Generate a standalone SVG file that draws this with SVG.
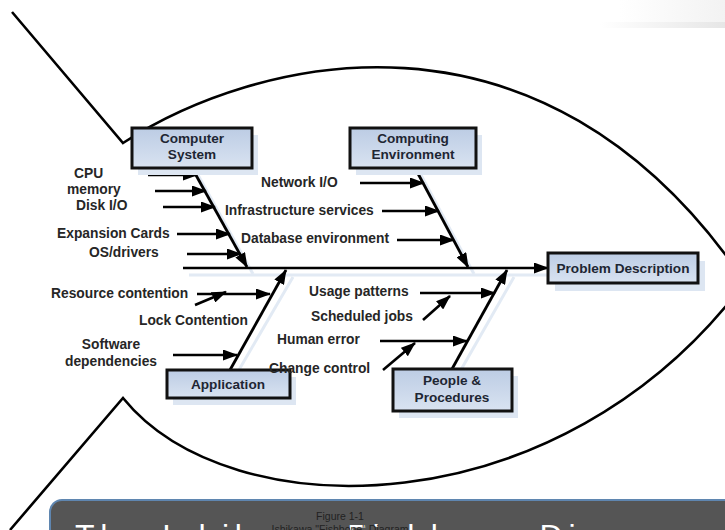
<svg xmlns="http://www.w3.org/2000/svg" width="725" height="530" viewBox="0 0 725 530">
<defs>
<style>
.t{font-family:"Liberation Sans",Arial,sans-serif;font-weight:bold;font-size:13.8px;fill:#262626}
.bt{font-family:"Liberation Sans",Arial,sans-serif;font-weight:bold;font-size:13.6px;fill:#1e2633;text-anchor:middle}
.box{fill:url(#bg);stroke:#111;stroke-width:3}
.sh{fill:#dde6f2}
.arr{stroke:#000;stroke-width:2.6;fill:none;marker-end:url(#ah)}
.bone{stroke:#000;stroke-width:2.8;fill:none;marker-end:url(#ah)}
.shl{stroke:#e2eaf4;stroke-width:3;fill:none}
.fish{stroke:#000;stroke-width:2.6;fill:none}
</style>
<linearGradient id="bg" x1="0" y1="0" x2="0" y2="1">
<stop offset="0" stop-color="#bccce4"/>
<stop offset="1" stop-color="#d9e3f1"/>
</linearGradient>
<linearGradient id="tr" x1="0" y1="0" x2="1" y2="0">
<stop offset="0" stop-color="#ffffff"/>
<stop offset="1" stop-color="#e6e6e6"/>
</linearGradient>
<marker id="ah" markerUnits="userSpaceOnUse" markerWidth="15" markerHeight="11" refX="14" refY="5.5" orient="auto">
<path d="M0,0 L15,5.5 L0,11 z" fill="#000"/>
</marker>
</defs>
<rect width="725" height="530" fill="#fff"/>
<rect x="600" y="22" width="125" height="6" fill="url(#tr)"/>
<rect x="620" y="0" width="105" height="22" fill="url(#tr)" opacity="0.5"/>

<g id="fish-outline">
<path class="fish" d="M12,12 L123,143 C250,60 540,-20 745,282"/>
<path class="fish" d="M10,530 L123,398 C230,530 560,530 745,282"/>
</g>

<g id="shadows">
<path class="shl" d="M189,275 L554,275"/>
<path class="shl" d="M198,175 L253,274"/>
<path class="shl" d="M421,175 L474,274"/>
<path class="shl" d="M236,375 L293,277"/>
<path class="shl" d="M458,375 L514,277"/>
</g>

<g id="connectors">
<path class="arr" d="M183,268 L548,268"/>
<path class="bone" d="M192,168 L247,267"/>
<path class="bone" d="M415,168 L468,267"/>
<path class="bone" d="M230,370 L286,270"/>
<path class="bone" d="M452,369 L507,270"/>
<path class="arr" d="M148,175 L197,175"/>
<path class="arr" d="M155,191 L206,191"/>
<path class="arr" d="M163,207 L215,207"/>
<path class="arr" d="M177,234 L230,234"/>
<path class="arr" d="M187,254 L241,254"/>
<path class="arr" d="M360,183 L424,183"/>
<path class="arr" d="M382,211 L439,211"/>
<path class="arr" d="M397,240 L454,240"/>
<path class="arr" d="M197,294 L270,294"/>
<path class="arr" d="M195,305 L226,292"/>
<path class="arr" d="M173,355 L237,355"/>
<path class="arr" d="M420,293 L495,293"/>
<path class="arr" d="M423,320 L450,296"/>
<path class="arr" d="M380,341 L467,341"/>
<path class="arr" d="M383,370 L415,343"/>
</g>

<g id="computer-system">
<rect class="sh" x="138" y="135" width="120" height="40"/>
<rect class="box" x="132" y="128" width="120" height="40"/>
<text class="bt" x="192" y="143">Computer</text>
<text class="bt" x="192" y="159">System</text>
</g>
<g id="computing-environment">
<rect class="sh" x="356" y="135" width="126" height="40"/>
<rect class="box" x="350" y="128" width="126" height="40"/>
<text class="bt" x="413" y="143">Computing</text>
<text class="bt" x="413" y="159">Environment</text>
</g>
<g id="problem-description">
<rect class="sh" x="555" y="261" width="150" height="30"/>
<rect class="box" x="548" y="253" width="150" height="30"/>
<text class="bt" x="623" y="273">Problem Description</text>
</g>
<g id="application">
<rect class="sh" x="173" y="377" width="123" height="28"/>
<rect class="box" x="167" y="370" width="123" height="28"/>
<text class="bt" x="228" y="389">Application</text>
</g>
<g id="people-procedures">
<rect class="sh" x="399" y="376" width="119" height="42"/>
<rect class="box" x="393" y="369" width="119" height="42"/>
<text class="bt" x="452" y="385">People &amp;</text>
<text class="bt" x="452" y="402">Procedures</text>
</g>

<g id="labels">
<text class="t" x="74" y="178">CPU</text>
<text class="t" x="67" y="194">memory</text>
<text class="t" x="76" y="210">Disk I/O</text>
<text class="t" x="57" y="238">Expansion Cards</text>
<text class="t" x="89" y="257">OS/drivers</text>
<text class="t" x="261" y="187">Network I/O</text>
<text class="t" x="225" y="215">Infrastructure services</text>
<text class="t" x="241" y="243">Database environment</text>
<text class="t" x="51" y="298">Resource contention</text>
<text class="t" x="139" y="325">Lock Contention</text>
<text class="t" x="111" y="349" text-anchor="middle">Software</text>
<text class="t" x="111" y="366" text-anchor="middle">dependencies</text>
<text class="t" x="309" y="296">Usage patterns</text>
<text class="t" x="311" y="321">Scheduled jobs</text>
<text class="t" x="277" y="344">Human error</text>
<text class="t" x="269" y="373">Change control</text>
</g>

<g id="caption">
<rect x="50" y="500" width="700" height="70" rx="12" fill="#555555" stroke="#5f86b0" stroke-width="2"/>
<text x="75" y="547" font-family="Liberation Sans,Arial,sans-serif" font-size="32" fill="#ffffff" textLength="620" lengthAdjust="spacing">The Ishikawa Fishbone Diagram</text>
<text x="340" y="520" font-family="Liberation Sans,Arial,sans-serif" font-size="10.5" fill="#222" text-anchor="middle">Figure 1-1</text>
<text x="340" y="533" font-family="Liberation Sans,Arial,sans-serif" font-size="10.5" fill="#222" text-anchor="middle">Ishikawa "Fishbone" Diagram</text>
</g>
</svg>
